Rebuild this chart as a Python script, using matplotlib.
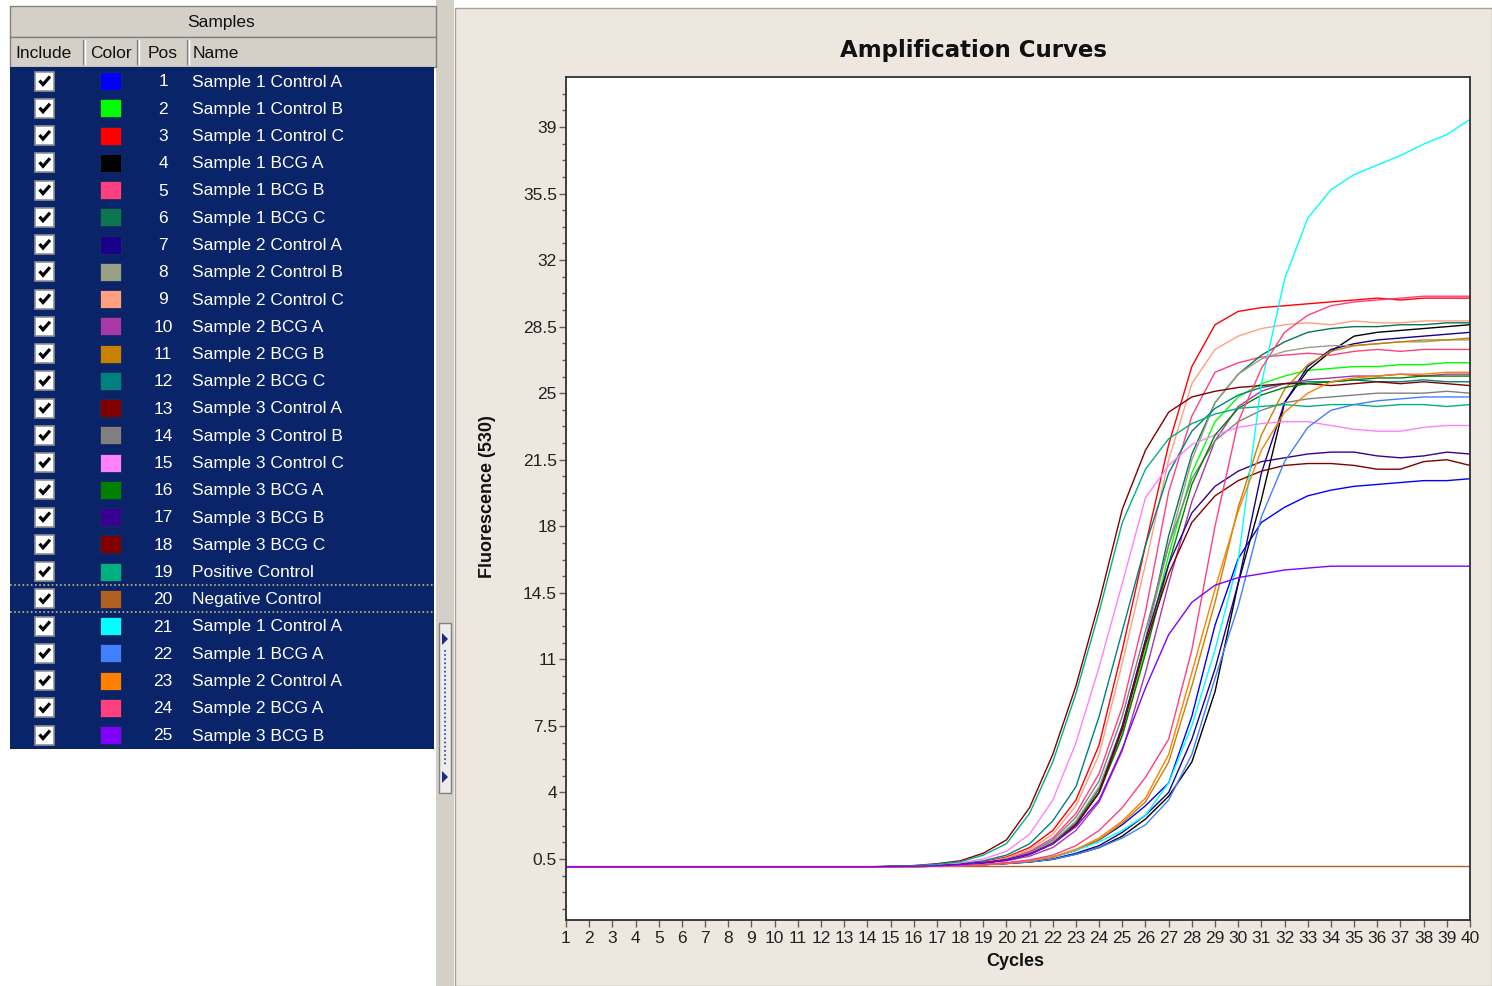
import matplotlib
matplotlib.use("Agg")
import matplotlib.pyplot as plt
import numpy as np
from matplotlib.patches import Rectangle, Polygon
from matplotlib.ticker import FixedLocator

plt.rcParams['font.family'] = ['Liberation Sans', 'DejaVu Sans']

W, H = 1492, 986

# ---- sample table ----
positions = list(range(1, 26))
sample_names = [
    "Sample 1 Control A", "Sample 1 Control B", "Sample 1 Control C",
    "Sample 1 BCG A", "Sample 1 BCG B", "Sample 1 BCG C",
    "Sample 2 Control A", "Sample 2 Control B", "Sample 2 Control C",
    "Sample 2 BCG A", "Sample 2 BCG B", "Sample 2 BCG C",
    "Sample 3 Control A", "Sample 3 Control B", "Sample 3 Control C",
    "Sample 3 BCG A", "Sample 3 BCG B", "Sample 3 BCG C",
    "Positive Control", "Negative Control",
    "Sample 1 Control A", "Sample 1 BCG A", "Sample 2 Control A",
    "Sample 2 BCG A", "Sample 3 BCG B",
]
sample_colors = [
    "#0000ff", "#00ff00", "#ff0000", "#000000", "#ff4080", "#0b7550",
    "#18008a", "#98a085", "#ffa080", "#a838a8", "#c88000", "#008080",
    "#800000", "#808080", "#ff80ff", "#008000", "#380090", "#800000",
    "#00b080", "#b06020", "#00ffff", "#4080ff", "#ff8000", "#ff4080",
    "#8000ff",
]

# ---- amplification data (fluorescence per cycle) ----
cycles = list(range(1, 41))
BASELINE = [0.08] * 14   # cycles 1-14, flat

pos01 = BASELINE + [.08, .1, .12, .15, .2, .28, .4, .6, .95, 1.5, 2.3, 3.3, 4.5, 8.0, 12.8, 16.3, 18.2, 19.0, 19.6, 19.9, 20.1, 20.2, 20.3, 20.4, 20.4, 20.5]
pos02 = BASELINE + [.1, .12, .14, .2, .3, .45, .75, 1.3, 2.3, 4.0, 7.0, 11.5, 16.5, 20.8, 23.5, 24.8, 25.5, 25.9, 26.2, 26.3, 26.4, 26.4, 26.5, 26.5, 26.6, 26.6]
pos03 = BASELINE + [.1, .12, .15, .22, .35, .6, 1.1, 2.0, 3.6, 6.5, 11.5, 17.0, 22.3, 26.4, 28.6, 29.3, 29.5, 29.6, 29.7, 29.8, 29.9, 30.0, 29.9, 30.0, 30.0, 30.0]
pos04 = BASELINE + [.08, .1, .12, .15, .2, .26, .34, .48, .75, 1.1, 1.7, 2.6, 3.8, 5.6, 9.3, 15.0, 19.4, 24.5, 26.2, 27.2, 28.0, 28.2, 28.3, 28.4, 28.5, 28.6]
pos05 = BASELINE + [.1, .12, .14, .2, .3, .5, .9, 1.6, 2.9, 5.0, 8.5, 13.5, 19.8, 23.8, 26.1, 26.6, 26.9, 27.0, 27.1, 27.0, 27.2, 27.3, 27.2, 27.3, 27.3, 27.3]
pos06 = BASELINE + [.1, .12, .14, .2, .3, .45, .8, 1.4, 2.4, 4.2, 7.4, 12.0, 17.5, 21.8, 24.5, 26.0, 27.0, 27.7, 28.2, 28.4, 28.5, 28.5, 28.6, 28.6, 28.7, 28.7]
pos07 = BASELINE + [.08, .1, .12, .15, .2, .26, .36, .5, .8, 1.2, 1.9, 2.8, 4.0, 6.8, 10.5, 15.0, 20.8, 24.5, 26.4, 27.3, 27.6, 27.8, 27.9, 28.0, 28.1, 28.2]
pos08 = BASELINE + [.1, .12, .14, .2, .3, .45, .8, 1.4, 2.5, 4.3, 7.5, 12.0, 17.0, 21.5, 24.5, 26.0, 26.8, 27.2, 27.4, 27.5, 27.5, 27.6, 27.7, 27.7, 27.8, 27.8]
pos09 = BASELINE + [.1, .12, .15, .2, .32, .55, 1.0, 1.8, 3.3, 6.0, 10.8, 16.0, 21.5, 25.5, 27.3, 28.0, 28.4, 28.6, 28.7, 28.6, 28.8, 28.7, 28.7, 28.8, 28.8, 28.8]
pos10 = BASELINE + [.1, .12, .14, .2, .28, .4, .65, 1.1, 2.0, 3.5, 6.2, 10.3, 15.0, 19.3, 22.5, 24.3, 25.1, 25.5, 25.7, 25.8, 25.9, 25.9, 26.0, 25.9, 26.0, 26.0]
pos11 = BASELINE + [.08, .1, .12, .15, .2, .28, .4, .6, 1.0, 1.5, 2.4, 3.5, 5.6, 9.6, 14.0, 19.0, 22.8, 25.2, 26.5, 27.2, 27.5, 27.6, 27.7, 27.8, 27.8, 27.9]
pos12 = BASELINE + [.1, .12, .16, .25, .4, .7, 1.3, 2.5, 4.3, 8.0, 12.5, 17.0, 20.8, 23.0, 24.2, 24.9, 25.3, 25.5, 25.6, 25.6, 25.7, 25.6, 25.6, 25.7, 25.6, 25.6]
pos13 = BASELINE + [.12, .15, .25, .4, .8, 1.5, 3.2, 6.0, 9.6, 14.0, 18.9, 22.0, 24.0, 24.8, 25.1, 25.3, 25.4, 25.5, 25.5, 25.4, 25.5, 25.6, 25.5, 25.6, 25.5, 25.4]
pos14 = BASELINE + [.1, .12, .14, .2, .3, .5, .85, 1.5, 2.7, 4.6, 8.0, 12.5, 17.0, 20.5, 22.5, 23.5, 24.1, 24.5, 24.7, 24.8, 24.9, 25.0, 25.0, 25.0, 25.1, 25.0]
pos15 = BASELINE + [.1, .12, .18, .3, .5, .9, 1.8, 3.6, 6.6, 10.6, 15.0, 19.5, 21.2, 22.3, 22.8, 23.2, 23.4, 23.5, 23.5, 23.3, 23.1, 23.0, 23.0, 23.2, 23.3, 23.3]
pos16 = BASELINE + [.1, .12, .14, .2, .3, .45, .75, 1.3, 2.3, 4.0, 7.0, 11.3, 16.0, 20.2, 22.8, 24.2, 24.9, 25.3, 25.5, 25.6, 25.7, 25.8, 25.8, 25.9, 25.9, 25.9]
pos17 = BASELINE + [.1, .12, .14, .2, .3, .45, .75, 1.3, 2.3, 4.0, 7.5, 12.0, 16.0, 18.7, 20.1, 20.9, 21.4, 21.6, 21.8, 21.9, 21.9, 21.7, 21.6, 21.7, 21.9, 21.8]
pos18 = BASELINE + [.1, .12, .14, .2, .3, .45, .75, 1.3, 2.3, 4.0, 7.3, 11.8, 15.5, 18.2, 19.6, 20.4, 20.9, 21.2, 21.3, 21.3, 21.2, 21.0, 21.0, 21.4, 21.5, 21.2]
pos19 = BASELINE + [.12, .15, .22, .35, .7, 1.3, 2.9, 5.6, 9.2, 13.5, 18.2, 21.0, 22.6, 23.4, 23.9, 24.2, 24.3, 24.4, 24.3, 24.4, 24.4, 24.3, 24.4, 24.4, 24.3, 24.4]
pos20 = [0.12] * 40      # negative control stays flat
pos21 = BASELINE + [.08, .1, .12, .15, .2, .28, .4, .6, .95, 1.4, 2.0, 2.8, 4.5, 7.5, 11.5, 16.2, 25.5, 31.0, 34.2, 35.7, 36.5, 37.0, 37.5, 38.1, 38.6, 39.4]
pos22 = BASELINE + [.08, .1, .12, .15, .2, .26, .34, .48, .75, 1.1, 1.6, 2.3, 3.6, 6.0, 10.0, 13.8, 18.5, 21.4, 23.2, 24.1, 24.4, 24.6, 24.7, 24.8, 24.8, 24.8]
pos23 = BASELINE + [.08, .1, .12, .15, .2, .28, .4, .6, 1.0, 1.6, 2.5, 3.7, 6.0, 10.3, 14.7, 18.8, 22.0, 24.0, 25.0, 25.6, 25.8, 25.9, 26.0, 26.0, 26.1, 26.1]
pos24 = BASELINE + [.08, .1, .12, .15, .2, .3, .45, .7, 1.2, 2.0, 3.2, 4.8, 6.8, 11.5, 18.0, 23.5, 26.3, 28.2, 29.1, 29.6, 29.8, 29.9, 30.0, 30.1, 30.1, 30.1]
pos25 = BASELINE + [.1, .12, .14, .2, .3, .45, .75, 1.3, 2.2, 3.6, 6.3, 9.5, 12.3, 14.0, 14.9, 15.3, 15.5, 15.7, 15.8, 15.9, 15.9, 15.9, 15.9, 15.9, 15.9, 15.9]

fluorescence = [pos01, pos02, pos03, pos04, pos05, pos06, pos07, pos08, pos09, pos10,
                pos11, pos12, pos13, pos14, pos15, pos16, pos17, pos18, pos19, pos20,
                pos21, pos22, pos23, pos24, pos25]

y_ticks = [0.5, 4, 7.5, 11, 14.5, 18, 21.5, 25, 28.5, 32, 35.5, 39]
y_tick_labels = ["0.5", "4", "7.5", "11", "14.5", "18", "21.5", "25", "28.5", "32", "35.5", "39"]


def fx(px):
    return px / W


def fy(py):
    return 1 - py / H


fig = plt.figure(figsize=(W / 100, H / 100), dpi=100)
fig.patch.set_facecolor("white")

# pixel-space overlay for the window chrome and the sample table
ui = fig.add_axes([0, 0, 1, 1])
ui.set_xlim(0, W)
ui.set_ylim(H, 0)
ui.axis("off")

GRAY = "#d4d0c8"
NAVY = "#0a246a"

# right chart panel
ui.add_patch(Rectangle((455, 8), W - 455, H - 8, facecolor="#ede7df", edgecolor="#a8a49c", lw=1))
# splitter
ui.add_patch(Rectangle((436, 0), 18, H, facecolor=GRAY, edgecolor="none"))
ui.add_patch(Rectangle((438.5, 623), 12, 170, facecolor="#ececec", edgecolor="#808080", lw=1))
ui.add_patch(Polygon([[442, 633], [442, 645], [448, 639]], closed=True, facecolor="#1a2a8a", edgecolor="none"))
ui.add_patch(Polygon([[442, 771], [442, 783], [448, 777]], closed=True, facecolor="#1a2a8a", edgecolor="none"))
ui.plot([445, 445], [650, 765], color="#2a3a9a", lw=1.2, ls=(0, (1, 1.5)))

# table headers
ui.add_patch(Rectangle((10, 6), 426, 31, facecolor=GRAY, edgecolor="#808080", lw=1))
ui.text(221, 22, "Samples", ha="center", va="center", fontsize=12.5, color="#111111")
ui.add_patch(Rectangle((10, 37), 426, 30, facecolor=GRAY, edgecolor="#808080", lw=1))
for sx in [83, 137, 187]:
    ui.plot([sx, sx], [40, 64], color="#808080", lw=1)
    ui.plot([sx + 1.5, sx + 1.5], [40, 64], color="white", lw=1)
for hx, htxt in [(15, "Include"), (90, "Color"), (148, "Pos"), (193, "Name")]:
    ui.text(hx, 53, htxt, ha="left", va="center", fontsize=12.5, color="#111111")

# table body
ROW0, ROWH = 81, 27.25
ui.add_patch(Rectangle((10, 67), 424, 682, facecolor=NAVY, edgecolor="none"))
for i, (p, name, col) in enumerate(zip(positions, sample_names, sample_colors)):
    yc = ROW0 + i * ROWH
    ui.add_patch(Rectangle((35, yc - 9.5), 19, 19, facecolor="white", edgecolor="#909090", lw=1.2))
    ui.plot([39.5, 43, 50], [yc - 0.5, yc + 3.5, yc - 4.5], color="black", lw=2.3,
            solid_capstyle="butt", solid_joinstyle="miter")
    ui.add_patch(Rectangle((100, yc - 9), 21, 18, facecolor=col, edgecolor="#1a2a5a", lw=0.6))
    ui.text(163, yc + 1, str(p), ha="center", va="center", fontsize=12.5, color="white")
    ui.text(192, yc + 1, name, ha="left", va="center", fontsize=12.5, color="white")
for dy in [585, 612]:
    ui.plot([10, 434], [dy, dy], color="#c8b878", lw=1.2, ls=(0, (1, 1.5)))

# ---- amplification chart ----
ax = fig.add_axes([fx(566), fy(920), fx(1470) - fx(566), fy(77) - fy(920)])
ax.set_facecolor("white")
for vals, col in zip(fluorescence, sample_colors):
    ax.plot(cycles, vals, color=col, lw=1.0)

ax.set_xlim(1, 40)
ax.set_ylim(-2.71, 41.63)
ax.set_xticks(cycles)
ax.set_xticklabels([str(c) for c in cycles])
ax.set_yticks(y_ticks)
ax.set_yticklabels(y_tick_labels)
ax.yaxis.set_minor_locator(FixedLocator(np.arange(0.5 - 3 * 0.875, 41.6, 0.875)))
ax.tick_params(axis="both", which="major", direction="out", length=5, width=1,
               color="#606060", labelsize=12.5, labelcolor="#222222")
ax.tick_params(axis="y", which="major", pad=1.5)
ax.tick_params(axis="x", which="major", pad=3)
ax.tick_params(axis="y", which="minor", direction="out", length=3, width=1, color="#606060")
for sp in ax.spines.values():
    sp.set_color("#303030")
    sp.set_linewidth(1.3)

fig.text(fx(973), fy(50), "Amplification Curves", ha="center", va="center",
         fontsize=16.5, fontweight="bold", family="DejaVu Sans", color="#111111")
fig.text(fx(488), fy(497), "Fluorescence (530)", ha="center", va="center", rotation=90,
         fontsize=13, fontweight="bold", color="#111111")
fig.text(fx(1015), fy(962), "Cycles", ha="center", va="center",
         fontsize=13, fontweight="bold", color="#111111")

fig.savefig("out.png", dpi=100)
